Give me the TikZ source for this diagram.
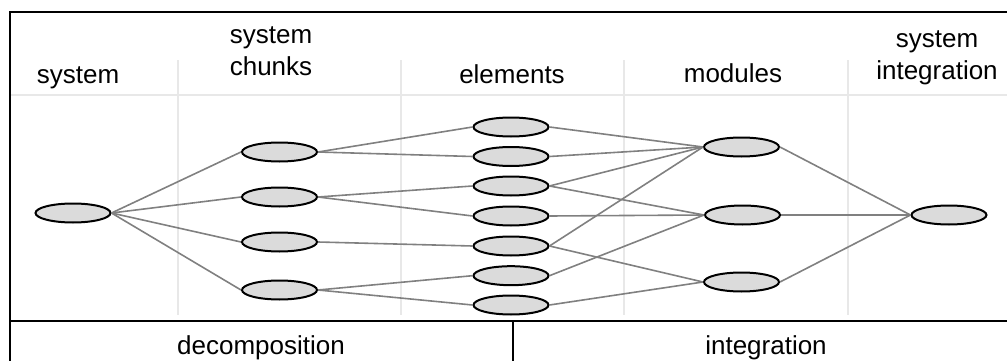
\documentclass[tikz,border=0pt]{standalone}
\usepackage{fontspec}
\setmainfont{Liberation Sans}
\usetikzlibrary{shapes.geometric}
\begin{document}
\begin{tikzpicture}[x=1pt,y=-1pt,
  blob/.style={ellipse,draw=black,line width=2pt,fill=black!14,
    minimum width=75pt,minimum height=19pt,inner sep=0pt},
  link/.style={draw=black!50,line width=1.6pt},
  guide/.style={draw=black!9,line width=2pt},
  frame/.style={draw=black,line width=2pt},
  lbl/.style={font=\fontsize{26}{30}\selectfont,inner sep=0pt,anchor=base}]
\useasboundingbox (0,0) rectangle (1007,361);
\clip (0,0) rectangle (1007,361);

% column guides and header rule
\draw[guide] (10,95) -- (1010,95);
\foreach \gx in {178,401,624,848}
  \draw[guide] (\gx,60) -- (\gx,315);

% outer frame and phase bar
\draw[frame] (10,370) -- (10,12) -- (1015,12);
\draw[frame] (10,321) -- (1015,321);
\draw[frame] (513,321) -- (513,370);

% column headings
\node[lbl] (hSys) at (78,84) {system};
\node[lbl] (hChunksA) at (271,44) {system};
\node[lbl] (hChunksB) at (271,76) {chunks};
\node[lbl] (hElem) at (512,84) {elements};
\node[lbl] (hMod) at (733,83) {modules};
\node[lbl] (hIntA) at (937,48) {system};
\node[lbl] (hIntB) at (937,80) {integration};

% phase labels
\node[lbl] (pDec) at (261,354) {decomposition};
\node[lbl] (pInt) at (766,354) {integration};

% nodes
\node[blob] (sys) at (73,213) {};
\node[blob] (c1) at (279.5,152) {};
\node[blob] (c2) at (279.5,197) {};
\node[blob] (c3) at (279.5,242) {};
\node[blob] (c4) at (279.5,290) {};
\node[blob] (e1) at (511,127) {};
\node[blob] (e2) at (511,156.5) {};
\node[blob] (e3) at (511,186) {};
\node[blob] (e4) at (511,216) {};
\node[blob] (e5) at (511,246) {};
\node[blob] (e6) at (511,275.7) {};
\node[blob] (e7) at (511,305) {};
\node[blob] (m1) at (741.5,147) {};
\node[blob] (m2) at (742.5,215) {};
\node[blob] (m3) at (741.5,282) {};
\node[blob] (si) at (949,215) {};

% connectors
\foreach \c in {c1,c2,c3,c4}
  \draw[link] (sys.east) -- (\c.west);
\draw[link] (c1.east) -- (e1.west);
\draw[link] (c1.east) -- (e2.west);
\draw[link] (c2.east) -- (e3.west);
\draw[link] (c2.east) -- (e4.west);
\draw[link] (c3.east) -- (e5.west);
\draw[link] (c4.east) -- (e6.west);
\draw[link] (c4.east) -- (e7.west);
\draw[link] (e1.east) -- (m1.west);
\draw[link] (e2.east) -- (m1.west);
\draw[link] (e3.east) -- (m1.west);
\draw[link] (e3.east) -- (m2.west);
\draw[link] (e4.east) -- (m2.west);
\draw[link] (e5.east) -- (m1.west);
\draw[link] (e5.east) -- (m3.west);
\draw[link] (e6.east) -- (m2.west);
\draw[link] (e7.east) -- (m3.west);
\draw[link] (m1.east) -- (si.west);
\draw[link,line width=2.2pt] (m2.east) -- (si.west);
\draw[link] (m3.east) -- (si.west);
\end{tikzpicture}
\end{document}
